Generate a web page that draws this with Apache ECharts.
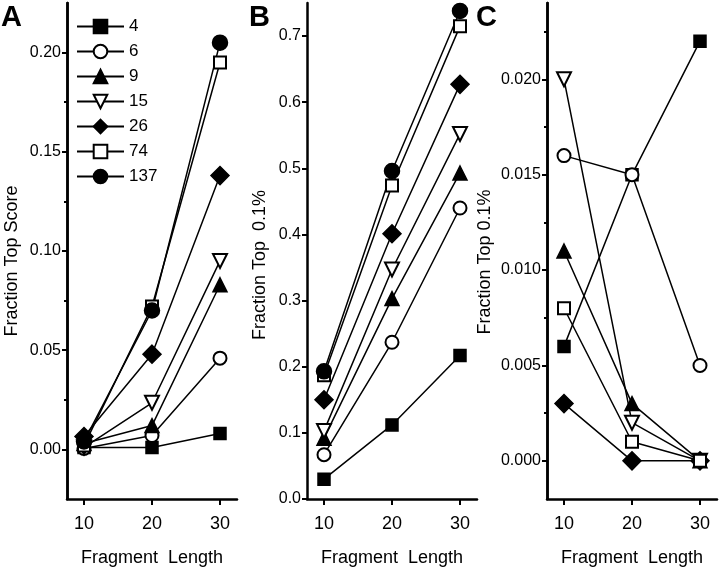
<!DOCTYPE html>
<html>
<head>
<meta charset="utf-8">
<script src="https://cdn.jsdelivr.net/npm/echarts@6/dist/echarts.min.js"></script>
<style>
html,body{margin:0;padding:0;background:#fff;}
#chart{width:720px;height:572px;}
</style>
</head>
<body>
<div id="chart"></div>
<script>
// ---- data ----
var fragmentLengths = [10, 20, 30];
var seriesNames = ['4', '6', '9', '15', '26', '74', '137'];

// Panel A: Fraction Top Score
var valuesA = [
  [0.001, 0.001, 0.008],
  [0.0005, 0.007, 0.046],
  [0.003, 0.012, 0.083],
  [0.001, 0.0235, 0.095],
  [0.0065, 0.048, 0.138],
  [0.002, 0.072, 0.195],
  [0.004, 0.070, 0.205]
];
// Panel B: Fraction Top 0.1%
var valuesB = [
  [0.030, 0.112, 0.217],
  [0.067, 0.237, 0.440],
  [0.092, 0.303, 0.493],
  [0.103, 0.347, 0.552],
  [0.150, 0.401, 0.627],
  [0.187, 0.474, 0.715],
  [0.193, 0.496, 0.738]
];
// Panel C: Fraction Top 0.1%
var valuesC = [
  [0.006, 0.015, 0.022],
  [0.016, 0.015, 0.005],
  [0.011, 0.003, 0.000],
  [0.020, 0.002, 0.000],
  [0.003, 0.000, 0.000],
  [0.008, 0.001, 0.000],
  [null, null, null]
];

var ticksA = [0, 0.05, 0.10, 0.15, 0.20];
var minorTicksA = [0.025, 0.075, 0.125, 0.175];
var ticksB = [0, 0.1, 0.2, 0.3, 0.4, 0.5, 0.6, 0.7];
var ticksC = [0, 0.005, 0.010, 0.015, 0.020];
var minorTicksC = [0.0025, 0.0075, 0.0125, 0.0175, 0.0225];
var xTicks = [10, 20, 30];

// ---- styles ----
var FONT = '"Liberation Sans", Arial, sans-serif';
var symbols = [
  {symbol: 'rect', size: 12, rotate: 0},
  {symbol: 'emptyCircle', size: 13, rotate: 0},
  {symbol: 'triangle', size: 14, rotate: 0},
  {symbol: 'emptyTriangle', size: 14, rotate: 180},
  {symbol: 'diamond', size: 18, rotate: 0},
  {symbol: 'emptyRect', size: 12, rotate: 0},
  {symbol: 'circle', size: 15, rotate: 0}
];

var grids = [
  {left: 67, top: 3, width: 170, height: 497},
  {left: 307, top: 3, width: 170, height: 497},
  {left: 547, top: 3, width: 170, height: 496}
];

function xAxisFor(i) {
  return {
    type: 'value', gridIndex: i, min: 7.5, max: 32.5, position: 'bottom',
    name: 'Fragment  Length', nameLocation: 'middle', nameGap: 50,
    nameTextStyle: {fontFamily: FONT, fontSize: 18, color: '#000'},
    axisLine: {onZero: false, lineStyle: {color: '#000', width: 2.5}},
    axisTick: {customValues: xTicks, length: 6, lineStyle: {color: '#000', width: 2}},
    axisLabel: {customValues: xTicks, fontFamily: FONT, fontSize: 18, color: '#000', margin: 16},
    splitLine: {show: false}
  };
}
function yAxisMajor(i, min, max, ticks, digits) {
  return {
    type: 'value', gridIndex: i, min: min, max: max, position: 'left',
    axisLine: {show: true, onZero: false, lineStyle: {color: '#000', width: 2.5}},
    axisTick: {customValues: ticks, length: 5, lineStyle: {color: '#000', width: 2}},
    axisLabel: {customValues: ticks, fontFamily: FONT, fontSize: 16, color: '#000', margin: 6,
      formatter: function (v) { return Number(v).toFixed(digits); }},
    splitLine: {show: false}
  };
}
function yAxisMinor(i, min, max, ticks) {
  return {
    type: 'value', gridIndex: i, min: min, max: max, position: 'left', offset: 0,
    axisLine: {show: true, onZero: false, lineStyle: {color: '#000', width: 2.5}},
    axisTick: {show: true, customValues: ticks, length: 3, lineStyle: {color: '#000', width: 2}},
    axisLabel: {show: false},
    splitLine: {show: false}
  };
}

var series = [];
function addPanel(values, xIdx, yIdx) {
  for (var s = 0; s < values.length; s++) {
    var sym = symbols[s];
    var data = [];
    for (var k = 0; k < fragmentLengths.length; k++) {
      if (values[s][k] !== null) data.push([fragmentLengths[k], values[s][k]]);
    }
    if (!data.length) continue;
    series.push({
      type: 'line', name: seriesNames[s], xAxisIndex: xIdx, yAxisIndex: yIdx,
      data: data, symbol: sym.symbol, symbolSize: sym.size, symbolRotate: sym.rotate,
      showAllSymbol: true, clip: false, animation: false,
      lineStyle: {color: '#000', width: 1.5},
      itemStyle: {color: '#000', borderColor: '#000', borderWidth: 1.5},
      emphasis: {disabled: true}
    });
  }
}
addPanel(valuesA, 0, 0);
addPanel(valuesB, 1, 2);
addPanel(valuesC, 2, 3);

var option = {
  backgroundColor: '#fff',
  animation: false,
  grid: grids,
  xAxis: [xAxisFor(0), xAxisFor(1), xAxisFor(2)],
  yAxis: [
    yAxisMajor(0, -0.025, 0.225, ticksA, 2),
    yAxisMinor(0, -0.025, 0.225, minorTicksA),
    yAxisMajor(1, 0, 0.75, ticksB, 1),
    yAxisMajor(2, -0.002, 0.024, ticksC, 3),
    yAxisMinor(2, -0.002, 0.024, minorTicksC)
  ],
  legend: {
    data: seriesNames, orient: 'vertical', left: 71, top: 13,
    itemWidth: 47, itemHeight: 17, itemGap: 8, selectedMode: false,
    textStyle: {fontFamily: FONT, fontSize: 17, color: '#000'}
  },
  graphic: [
    {type: 'text', left: 1, top: 3, style: {text: 'A', font: 'bold 29px ' + FONT, fill: '#000'}},
    {type: 'text', left: 249, top: 3, style: {text: 'B', font: 'bold 29px ' + FONT, fill: '#000'}},
    {type: 'text', left: 476, top: 3, style: {text: 'C', font: 'bold 29px ' + FONT, fill: '#000'}},
    {type: 'text', x: 12, y: 261, rotation: Math.PI / 2,
      style: {text: 'Fraction Top Score', font: '18px ' + FONT, fill: '#000', align: 'center', verticalAlign: 'middle'}},
    {type: 'text', x: 260, y: 265, rotation: Math.PI / 2,
      style: {text: 'Fraction Top  0.1%', font: '18px ' + FONT, fill: '#000', align: 'center', verticalAlign: 'middle'}},
    {type: 'text', x: 485, y: 262, rotation: Math.PI / 2,
      style: {text: 'Fraction Top 0.1%', font: '18px ' + FONT, fill: '#000', align: 'center', verticalAlign: 'middle'}}
  ],
  series: series
};

var chart = echarts.init(document.getElementById('chart'), null, {renderer: 'canvas'});
chart.setOption(option);
</script>
</body>
</html>
